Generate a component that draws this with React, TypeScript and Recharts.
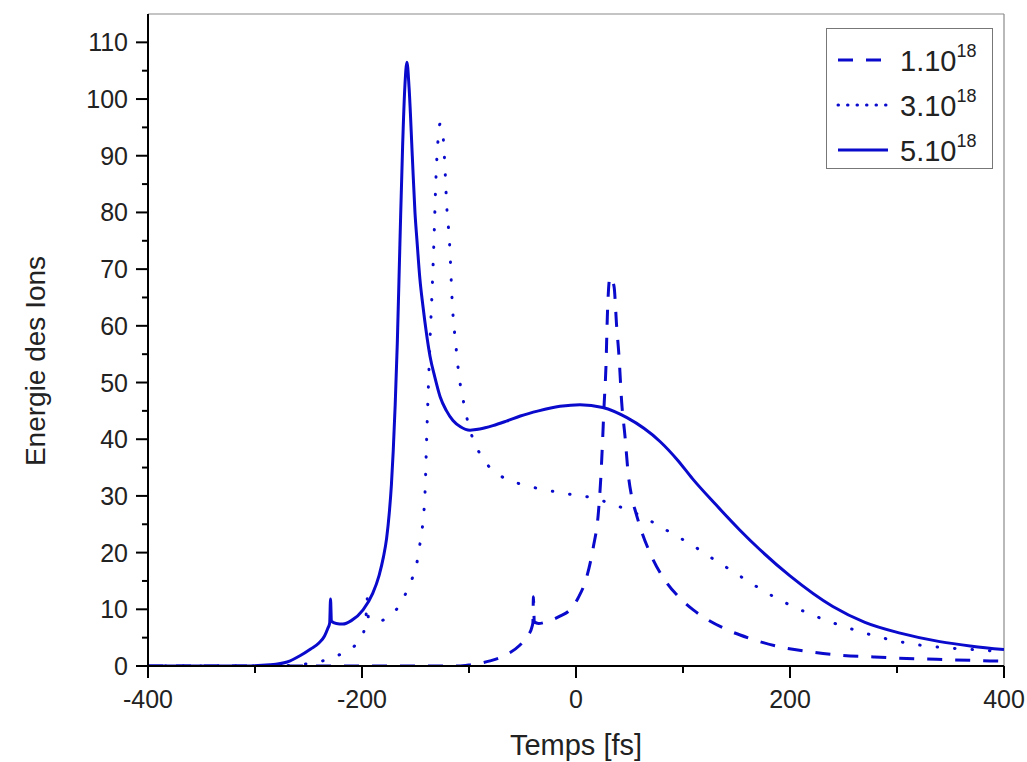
import React from 'react';
import { LineChart, Line, XAxis, YAxis, ReferenceLine, Legend } from 'recharts';

// 1.10^18 (dashed)
const dashedTime = [-400, -110, -99, -80.4, -65, -52.3, -45, -41, -40.3, -39.8, -39, -35, -27.4, -15, -5.6, 2, 10, 16.2, 20.9, 23.1, 24.6, 26.2, 28, 29.3, 31.8, 35.5, 38, 40.2, 42.7, 45.8, 48.9, 52, 56, 59.8, 70.7, 84.7, 97, 109.6, 137.7, 162, 190, 219, 247, 278, 300, 350, 387, 400];
const dashedEnergy = [0, 0, 0.2, 0.9, 2, 3.7, 5.3, 7, 7.6, 12.2, 7.8, 7.5, 7.8, 8.8, 9.9, 12, 15.7, 21, 27, 32.9, 38.7, 45.8, 52.8, 61.7, 68.6, 67, 59.9, 54.6, 46.5, 40.5, 33.7, 29.9, 27, 24.6, 19.3, 14.7, 12, 9.9, 6.7, 4.9, 3.4, 2.5, 1.9, 1.6, 1.4, 1.1, 0.9, 0.85];

// 3.10^18 (dotted)
const dottedTime = [-400, -300, -270, -255, -247, -230, -214, -205, -199.7, -197, -195.8, -195.3, -194, -190, -184.8, -177, -169.2, -163, -158.9, -152.6, -148, -145.5, -143, -141, -139.6, -138, -136.4, -134.5, -132.7, -130.8, -129, -127.1, -124.3, -122.4, -120.9, -118.4, -115.3, -112.5, -109, -106.2, -103.1, -98, -92.8, -87, -81.9, -74, -65.7, -50, -35, -18, -2.5, 14.6, 30.2, 47.4, 63, 78.5, 95.3, 111.2, 128, 144, 162, 192, 225, 258, 290, 321, 354, 387, 400];
const dottedEnergy = [0, 0, 0.1, 0.3, 0.5, 1.3, 2.7, 3.9, 5.3, 7.5, 10, 12, 8.5, 7.9, 7.8, 8.5, 9.7, 11.2, 12.9, 15.7, 18.9, 22, 25.5, 31, 40, 49, 57.6, 66, 75.3, 86.4, 92.6, 95.6, 93.5, 87.6, 81.4, 75.3, 62.9, 57, 50.7, 47.7, 44.7, 41, 38.5, 36.7, 35.3, 34, 33, 32, 31.3, 30.7, 30.2, 29.7, 28.8, 27.6, 26.3, 24.6, 22.8, 21, 18.9, 17, 14.8, 11.5, 8.7, 6.5, 4.8, 3.7, 3.1, 2.7, 2.5];

// 5.10^18 (solid)
const solidTime = [-400, -310, -286, -270, -258, -248, -240, -235, -232, -230.2, -229.4, -228.6, -224, -218, -210, -199, -190, -184, -180, -177, -174.5, -172.5, -170.8, -169, -167, -164.5, -162, -160, -158, -156, -153, -150.5, -148.6, -146, -143, -140, -136.4, -132, -127, -121, -115, -108, -99, -90, -77.6, -65, -52, -35, -15, 3.7, 25, 47.6, 78.5, 95, 109, 130, 153, 172, 200, 240, 270, 303, 340, 370, 400];
const solidEnergy = [0, 0, 0.2, 0.7, 1.8, 3, 4.1, 5.3, 6.6, 7.6, 11.8, 7.9, 7.5, 7.4, 8, 9.9, 12.8, 16, 19.2, 22.5, 27, 32, 38, 46, 57, 75, 92, 102, 106.5, 102, 90, 80, 75, 68.5, 63.4, 59, 54.6, 51, 47.5, 45, 43.3, 42.2, 41.6, 41.8, 42.4, 43.2, 44.1, 45, 45.8, 46.1, 45.6, 43.8, 39.6, 36.3, 33, 28.6, 24, 20.5, 15.9, 10.5, 7.7, 5.8, 4.3, 3.5, 2.9];

const xTicks = [-400, -300, -200, -100, 0, 100, 200, 300, 400];
const yTicks = [0, 5, 10, 15, 20, 25, 30, 35, 40, 45, 50, 55, 60, 65, 70, 75, 80, 85, 90, 95, 100, 105, 110];
const seriesNames = ['1.10', '3.10', '5.10'];

const BLUE = '#0a0acc';
const FONT = 'Arial, "Liberation Sans", sans-serif';

const zip = (t: number[], e: number[]) => t.map((v, i) => ({ t: v, e: e[i] }));
const dashedData = zip(dashedTime, dashedEnergy);
const dottedData = zip(dottedTime, dottedEnergy);
const solidData = zip(solidTime, solidEnergy);

const styles = [
  { dash: '15 13', cap: 'butt' },
  { dash: '0.5 9', cap: 'round' },
  { dash: undefined, cap: 'butt' },
];

const YTick = (props: any) => {
  const { x, y, payload } = props;
  const v = payload.value;
  const major = v % 10 === 0;
  return (
    <g>
      <line x1={x} x2={x - (major ? 12 : 6)} y1={y} y2={y} stroke="#000" strokeWidth={2} />
      {major && (
        <text x={x - 20} y={y} dy="0.36em" textAnchor="end" fontSize={25} fontFamily={FONT} fill="#222">
          {v}
        </text>
      )}
    </g>
  );
};

const XTick = (props: any) => {
  const { x, y, payload } = props;
  const v = payload.value;
  const major = v % 200 === 0;
  return (
    <g>
      <line x1={x} x2={x} y1={y} y2={y + (major ? 12 : 7)} stroke="#000" strokeWidth={2} />
      {major && (
        <text x={x} y={y + 42} textAnchor="middle" fontSize={25} fontFamily={FONT} fill="#222">
          {v}
        </text>
      )}
    </g>
  );
};

const renderLegend = () => (
  <svg width={167} height={141}>
    <rect x={0.5} y={0.5} width={166} height={140} fill="#fff" stroke="#777" strokeWidth={1} />
    {seriesNames.map((name, i) => {
      const cy = 32 + i * 45;
      return (
        <g key={name}>
          <line
            x1={12}
            x2={62}
            y1={cy}
            y2={cy}
            stroke={BLUE}
            strokeWidth={3}
            strokeDasharray={styles[i].dash}
            strokeLinecap={styles[i].cap as any}
          />
          <text x={74} y={cy + 11} fontSize={29} fontFamily={FONT} fill="#222">
            {name}
            <tspan fontSize={18} dy={-14}>18</tspan>
          </text>
        </g>
      );
    })}
  </svg>
);

export default function App() {
  return (
    <div style={{ position: 'absolute', left: 0, top: 0, width: 1027, height: 762, background: '#fff' }}>
      <LineChart width={1027} height={762} margin={{ top: 14, right: 23, left: 0, bottom: 0 }}>
        <XAxis
          dataKey="t"
          type="number"
          domain={[-400, 400]}
          ticks={xTicks}
          allowDataOverflow
          tick={<XTick />}
          tickSize={0}
          tickMargin={0}
          tickLine={false}
          height={96}
          axisLine={{ stroke: '#000', strokeWidth: 2 }}
          label={{
            content: () => (
              <text x={576} y={755} textAnchor="middle" fontSize={29} fontFamily={FONT} fill="#222">
                Temps [fs]
              </text>
            ),
          }}
        />
        <YAxis
          type="number"
          domain={[0, 115]}
          ticks={yTicks}
          allowDataOverflow
          tick={<YTick />}
          tickSize={0}
          tickMargin={0}
          tickLine={false}
          width={148}
          axisLine={{ stroke: '#000', strokeWidth: 2 }}
          label={{
            content: () => (
              <text
                x={35}
                y={361}
                transform="rotate(-90 35 361)"
                textAnchor="middle"
                dominantBaseline="central"
                fontSize={28}
                fontFamily={FONT}
                fill="#222"
              >
                Energie des Ions
              </text>
            ),
          }}
        />
        <ReferenceLine y={115} stroke="#8a8a8a" strokeWidth={1.2} />
        <ReferenceLine x={400} stroke="#8a8a8a" strokeWidth={1.2} />
        <Line data={dashedData} dataKey="e" type="monotone" stroke={BLUE} strokeWidth={3} strokeDasharray="15 13" dot={false} isAnimationActive={false} />
        <Line data={dottedData} dataKey="e" type="monotone" stroke={BLUE} strokeWidth={3} strokeDasharray="0.5 17" strokeLinecap="round" dot={false} isAnimationActive={false} />
        <Line data={solidData} dataKey="e" type="monotone" stroke={BLUE} strokeWidth={3} dot={false} isAnimationActive={false} />
        <Legend
          layout="vertical"
          align="center"
          verticalAlign="middle"
          wrapperStyle={{ left: 826, top: 28, width: 167, height: 141 }}
          content={renderLegend}
        />
      </LineChart>
    </div>
  );
}
